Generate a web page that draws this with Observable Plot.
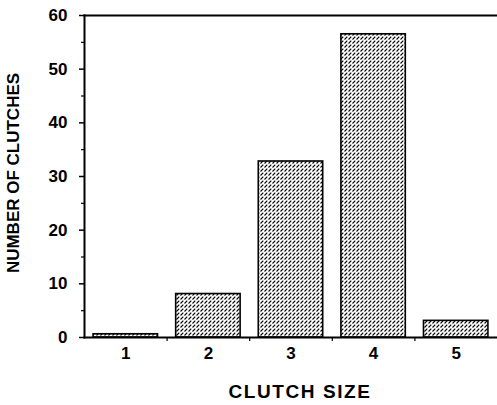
<!DOCTYPE html>
<html>
<head>
<meta charset="utf-8">
<script src="https://cdn.jsdelivr.net/npm/d3@7"></script>
<script src="https://cdn.jsdelivr.net/npm/@observablehq/plot@0.6"></script>
<style>
  html, body { margin: 0; padding: 0; background: #fff; }
  svg { font-family: "Liberation Sans", Arial, sans-serif; }
</style>
</head>
<body>
<div id="chart"></div>
<script>
const clutchSizes = [1, 2, 3, 4, 5];
const clutchCounts = [0.6, 8.1, 32.8, 56.5, 3.1];
const yMajorTicks = [0, 10, 20, 30, 40, 50, 60];
const yMinorTicks = [5, 15, 25, 35, 45, 55];
const xBoundaryTicks = [1.5, 2.5, 3.5, 4.5];
const xLabel = "CLUTCH SIZE";
const yLabel = "NUMBER OF CLUTCHES";

const data = clutchSizes.map((s, i) => ({size: s, count: clutchCounts[i]}));
const halfBar = 0.39;

const chart = Plot.plot({
  width: 497,
  height: 405,
  marginLeft: 84,
  marginRight: 0,
  marginTop: 15,
  marginBottom: 68,
  style: {fontFamily: "'Liberation Sans', Arial, sans-serif", background: "#fff"},
  x: {domain: [0.5, 5.5], axis: null},
  y: {domain: [0, 60], axis: null},
  marks: [
    Plot.rectY(data, {
      x1: d => d.size - halfBar,
      x2: d => d.size + halfBar,
      y: "count",
      fill: "url(#hatch)",
      stroke: "#000",
      strokeWidth: 1.6
    }),
    Plot.frame({anchor: "left", stroke: "#000", strokeWidth: 2}),
    Plot.frame({anchor: "top", stroke: "#000", strokeWidth: 2}),
    Plot.frame({anchor: "bottom", stroke: "#000", strokeWidth: 2}),
    Plot.axisY({ticks: yMajorTicks, tickSize: 5, tickPadding: 12, fontSize: 17, fontWeight: "bold", label: null, stroke: "#000", strokeWidth: 1.5, color: "#000"}),
    Plot.axisY({ticks: yMinorTicks, tickSize: 3, tickFormat: () => "", label: null, strokeWidth: 1.2}),
    Plot.axisX({ticks: clutchSizes, tickSize: 0, tickPadding: 9, fontSize: 17, fontWeight: "bold", label: null, tickFormat: d => String(d)}),
    Plot.axisX({ticks: xBoundaryTicks, tickSize: 4, tickFormat: () => "", label: null, strokeWidth: 1.2})
  ]
});

// hatch pattern definition
const ns = "http://www.w3.org/2000/svg";
const defs = document.createElementNS(ns, "defs");
const pat = document.createElementNS(ns, "pattern");
pat.setAttribute("id", "hatch");
pat.setAttribute("patternUnits", "userSpaceOnUse");
pat.setAttribute("width", "4");
pat.setAttribute("height", "4");
const bg = document.createElementNS(ns, "rect");
bg.setAttribute("width", "4");
bg.setAttribute("height", "4");
bg.setAttribute("fill", "#fff");
const ln = document.createElementNS(ns, "path");
ln.setAttribute("d", "M0.5,3.5L3.3,0.7");
ln.setAttribute("stroke", "#000");
ln.setAttribute("stroke-width", "1.1");
pat.appendChild(bg);
pat.appendChild(ln);
defs.appendChild(pat);
chart.insertBefore(defs, chart.firstChild);

// axis titles
const xT = document.createElementNS(ns, "text");
xT.setAttribute("x", "300");
xT.setAttribute("y", "398");
xT.setAttribute("text-anchor", "middle");
xT.setAttribute("font-size", "19");
xT.setAttribute("font-weight", "bold");
xT.setAttribute("letter-spacing", "1.6");
xT.textContent = xLabel;
chart.appendChild(xT);

const yT = document.createElementNS(ns, "text");
yT.setAttribute("transform", "translate(19,173) rotate(-90)");
yT.setAttribute("text-anchor", "middle");
yT.setAttribute("font-size", "17");
yT.setAttribute("font-weight", "bold");
yT.textContent = yLabel;
chart.appendChild(yT);

document.getElementById("chart").appendChild(chart);
</script>
</body>
</html>
